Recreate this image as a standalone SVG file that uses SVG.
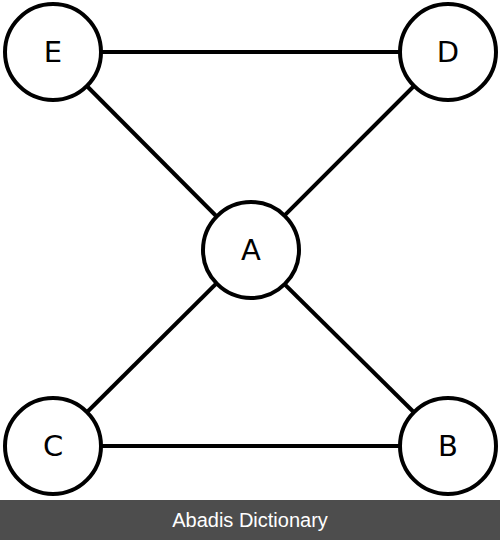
<svg xmlns="http://www.w3.org/2000/svg" width="500" height="540" viewBox="0 0 500 540">
<style>
.n circle{fill:#fff;stroke:#000;stroke-width:4}
.n text{font-family:"DejaVu Sans",sans-serif;font-size:29px;fill:#000;text-anchor:middle;dominant-baseline:central}
.e line{stroke:#000;stroke-width:4}
</style>
<rect width="500" height="540" fill="#fff"/>
<g id="edges" class="e">
<line x1="53" y1="52" x2="448" y2="52"/>
<line x1="53" y1="446" x2="448" y2="446"/>
<line x1="53" y1="52" x2="250" y2="250"/>
<line x1="448" y1="52" x2="250" y2="250"/>
<line x1="53" y1="446" x2="250" y2="250"/>
<line x1="448" y1="446" x2="250" y2="250"/>
</g>
<g id="E" class="n"><circle cx="53" cy="52" r="48"/><text x="53" y="52">E</text></g>
<g id="D" class="n"><circle cx="448" cy="52" r="48"/><text x="448" y="52">D</text></g>
<g id="A" class="n"><circle cx="251" cy="250" r="48"/><text x="251" y="250">A</text></g>
<g id="C" class="n"><circle cx="53" cy="446" r="48"/><text x="53" y="446">C</text></g>
<g id="B" class="n"><circle cx="448" cy="446" r="48"/><text x="448" y="446">B</text></g>
<rect x="0" y="500" width="500" height="40" fill="#4d4d4d"/>
<text x="250" y="527" font-family="Liberation Sans, Arial, sans-serif" font-size="20" fill="#fff" text-anchor="middle">Abadis Dictionary</text>
</svg>
